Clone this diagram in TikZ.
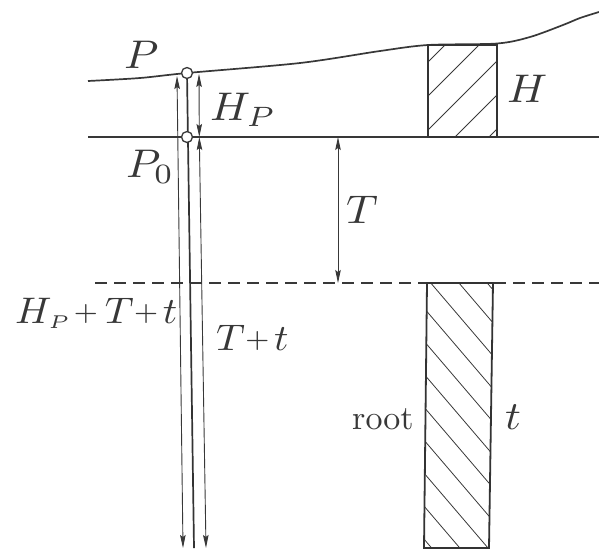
\documentclass[tikz,border=0pt]{standalone}
\usepackage{graphicx}
\usetikzlibrary{arrows.meta}
\newcommand\smp{\mathord{\vcenter{\hbox{\fontsize{7}{7}\selectfont +}}}}
\newcommand\lbl[1]{\scalebox{4.4}[4.0]{$#1$}}
\newcommand\lbs[1]{\scalebox{4.0}[3.7]{$#1$}}
\begin{document}
\begin{tikzpicture}[x=1pt,y=-1pt,
  mainline/.style={draw=black!78,line width=1.7pt},
  dimline/.style={draw=black!78,line width=0.9pt,{Stealth[length=13pt,width=5.5pt,inset=2pt]}-{Stealth[length=13pt,width=5.5pt,inset=2pt]}},
  lab/.style={text=black!78,inner sep=0pt,anchor=base west},
  hole/.style={circle,draw=black!78,line width=1.3pt,fill=white,minimum size=11pt,inner sep=0pt},
  hatchline/.style={draw=black!78,line width=0.8pt},
  boxline/.style={draw=black!80,line width=1.8pt}]
\useasboundingbox (0,0) rectangle (599,550);
% coordinates
\coordinate (Ptop) at (187,73);
\coordinate (P0c) at (187,137);
\coordinate (cbot) at (194,548);
\coordinate (Ltop) at (177,76);
\coordinate (Lbot) at (183,548);
\coordinate (Htop) at (199,74);
\coordinate (Hbot) at (199.3,137);
\coordinate (Rbot) at (206,548);
\coordinate (Ttop) at (338,137);
\coordinate (Tbot) at (338,283);
\coordinate (g0) at (88,137);
\coordinate (g1) at (599,137);
\coordinate (d0) at (95,283);
\coordinate (d1) at (599,283);
% ground surface curve
\draw[mainline] plot[smooth,tension=0.5] coordinates {(88,81) (140,78) (187,73) (300,63) (380,51) (428,45) (497,43.5) (530,37) (563,25) (580,18) (599,12)};
% P0 line
\draw[mainline] (g0) -- (g1);
% dashed line
\draw[draw=black!78,line width=1.1pt,dash pattern=on 12pt off 7pt] (d0) -- (d1);
% top box hatch
\begin{scope}
\clip (428,45) rectangle (497,137);
\foreach \k in {0,...,4} \draw[hatchline] (400,{490+34*\k-400}) -- (520,{490+34*\k-520});
\end{scope}
\draw[boxline] (428,45) rectangle (497,137);
% bottom box hatch
\begin{scope}
\clip (427,283) -- (493,283) -- (489,548) -- (424,548) -- cycle;
\foreach \k in {-2,...,10} \draw[hatchline] (400,{-254+33*\k+1.17*400}) -- (520,{-254+33*\k+1.17*520});
\end{scope}
\draw[boxline] (427,283) -- (493,283) -- (489,548) -- (424,548) -- cycle;
% vertical lines and arrows
\draw[draw=black!80,line width=1.7pt] (Ptop) -- (cbot);
\draw[dimline] (Ltop) -- (Lbot);
\draw[dimline] (Htop) -- (Hbot);
\draw[dimline] (Hbot) -- (Rbot);
\draw[dimline] (Ttop) -- (Tbot);
% holes
\node[hole] (hP) at (Ptop) {};
\node[hole] (hP0) at (P0c) {};
% labels
\node[lab] (lP) at (124,68) {\lbl{P}};
\node[lab] (lHP) at (210,120) {\lbl{H_P}};
\node[lab] (lP0) at (126,177) {\lbl{P_0}};
\node[lab] (lH) at (507,102) {\lbl{H}};
\node[lab] (lT) at (346,223) {\lbl{T}};
\node[lab] (lsum) at (15,323) {\lbs{H_{\scriptscriptstyle P}\mkern1mu\smp\mkern3mu T\smp\mkern2mu t}};
\node[lab] (lTt) at (216,350) {\lbs{T\smp\mkern2mu t}};
\node[lab] (lroot) at (352,429) {\scalebox{3.4}{root}};
\node[lab] (lt) at (505,429) {\lbl{t}};
\end{tikzpicture}
\end{document}
